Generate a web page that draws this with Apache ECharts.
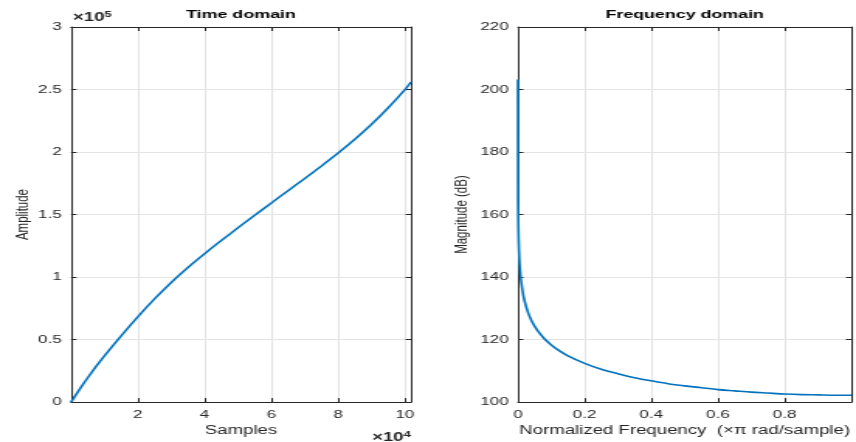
<!DOCTYPE html>
<html>
<head>
<meta charset="utf-8">
<script src="https://cdn.jsdelivr.net/npm/echarts@6/dist/echarts.min.js"></script>
<style>
html,body{margin:0;padding:0;background:#fff;overflow:hidden;}
#wrap{width:856px;height:442px;overflow:hidden;}
#chart{width:552px;height:442px;transform:scaleX(1.550725);transform-origin:0 0;}
</style>
</head>
<body>
<div id="wrap"><div id="chart"></div></div>
<script>
// ---- Time domain data (samples, amplitude) ----
const timeSamples = [0, 2500, 5000, 7500, 10000, 15000, 20000, 25000, 30000, 35000, 40000, 45000, 50000, 55000, 60000, 65000, 70000, 75000, 80000, 85000, 90000, 95000, 100000, 101800];
const timeAmplitude = [0, 10000, 19500, 28500, 37000, 53000, 68200, 82500, 95700, 107700, 118700, 129200, 139400, 149400, 159300, 169100, 178900, 188900, 199200, 210200, 222200, 235400, 249900, 256000];

// ---- Frequency domain data (normalized frequency, magnitude dB) ----
const freqNorm = [0, 0.0005, 0.001, 0.002, 0.004, 0.006, 0.008, 0.01, 0.015, 0.02, 0.03, 0.04, 0.05, 0.06, 0.08, 0.1, 0.12, 0.15, 0.2, 0.25, 0.3, 0.35, 0.4, 0.45, 0.5, 0.55, 0.6, 0.65, 0.7, 0.75, 0.8, 0.85, 0.9, 0.95, 1.0];
const freqMagDb = [203.2, 164.3, 158.3, 152.3, 146.2, 142.7, 140.2, 138.3, 134.8, 132.3, 128.7, 126.2, 124.3, 122.7, 120.2, 118.3, 116.7, 114.8, 112.4, 110.5, 109.1, 107.8, 106.8, 105.9, 105.2, 104.6, 104.0, 103.6, 103.2, 102.9, 102.6, 102.4, 102.3, 102.2, 102.2];

// ---- tick labels / texts ----
const timeXTicks = ['2', '4', '6', '8', '10'];
const titles = ['Time domain', 'Frequency domain'];
const xNames = ['Samples', 'Normalized Frequency  (\u00d7\u03c0 rad/sample)'];
const yNames = ['Amplitude', 'Magnitude (dB)'];

const dark = '#262626';
const gridCol = '#e4e4e4';
const font = 'Liberation Sans, Arial, Helvetica, sans-serif';
const lineCol = '#0072BD';

const chart = echarts.init(document.getElementById('chart'), null, {renderer: 'canvas'});

function mainX(gridIndex, min, max, interval, fmt, name) {
  return {
    type: 'value', gridIndex, min, max, interval, position: 'bottom',
    axisLine: {show: true, onZero: false, lineStyle: {color: dark, width: 1}},
    axisTick: {show: true, inside: true, length: 4, lineStyle: {color: dark}},
    axisLabel: {show: true, color: dark, fontSize: 11, fontFamily: font, margin: 7, formatter: fmt, showMaxLabel: true, showMinLabel: true},
    splitLine: {show: true, lineStyle: {color: gridCol, width: 1}},
    name, nameLocation: 'middle', nameGap: 22,
    nameTextStyle: {color: dark, fontSize: 12, fontFamily: font}
  };
}
function topX(gridIndex, min, max, interval, title) {
  return {
    type: 'value', gridIndex, min, max, interval, position: 'top',
    axisLine: {show: true, onZero: false, lineStyle: {color: dark, width: 1}},
    axisTick: {show: true, inside: true, length: 4, lineStyle: {color: dark}},
    axisLabel: {show: false}, splitLine: {show: false},
    name: title, nameLocation: 'middle', nameGap: 6,
    nameTextStyle: {color: '#000', fontSize: 11.5, fontWeight: 'bold', fontFamily: font}
  };
}
function mainY(gridIndex, min, max, interval, fmt, name, gap) {
  return {
    type: 'value', gridIndex, min, max, interval, position: 'left',
    axisLine: {show: true, onZero: false, lineStyle: {color: dark, width: 1}},
    axisTick: {show: true, inside: true, length: 3.5, lineStyle: {color: dark}},
    axisLabel: {show: true, color: dark, fontSize: 11, fontFamily: font, margin: 6, formatter: fmt},
    splitLine: {show: true, lineStyle: {color: gridCol, width: 1}},
    name, nameLocation: 'middle', nameGap: gap, nameRotate: 90,
    nameTextStyle: {color: dark, fontSize: 11.5, fontFamily: font}
  };
}
function rightY(gridIndex, min, max, interval) {
  return {
    type: 'value', gridIndex, min, max, interval, position: 'right',
    axisLine: {show: true, onZero: false, lineStyle: {color: dark, width: 1}},
    axisTick: {show: true, inside: true, length: 3.5, lineStyle: {color: dark}},
    axisLabel: {show: false}, splitLine: {show: false}
  };
}

const expRich = {
  a: {fontSize: 12, color: dark, fontFamily: font},
  b: {fontSize: 8.5, color: dark, fontFamily: font, verticalAlign: 'top', padding: [0, 0, 7, 0]}
};

const option = {
  animation: false,
  backgroundColor: '#fff',
  title: [
    {text: '{a|\u00d710}{b|5}', left: 47, top: 10, padding: 0, textStyle: {rich: expRich}},
    {text: '{a|\u00d710}{b|4}', right: 287, top: 430, padding: 0, textStyle: {rich: expRich}}
  ],
  grid: [
    {left: 45.8, right: 287, top: 27, bottom: 38},
    {left: 334, right: -1.3, top: 27, bottom: 38}
  ],
  xAxis: [
    mainX(0, 0, 101800, 20000, v => {
      const i = Math.round(v / 20000) - 1;
      return (v > 0 && v % 20000 === 0 && i < timeXTicks.length) ? timeXTicks[i] : '';
    }, xNames[0]),
    topX(0, 0, 101800, 20000, titles[0]),
    mainX(1, 0, 1, 0.2, v => (v === 0 ? '0' : (v < 0.99 ? v.toFixed(1) : '')), xNames[1]),
    topX(1, 0, 1, 0.2, titles[1])
  ],
  yAxis: [
    mainY(0, 0, 300000, 50000, v => String(v / 100000), yNames[0], 20),
    rightY(0, 0, 300000, 50000),
    mainY(1, 100, 220, 20, v => String(v), yNames[1], 30),
    rightY(1, 100, 220, 20)
  ],
  series: [
    {type: 'line', xAxisIndex: 0, yAxisIndex: 0, showSymbol: false, smooth: 0.25,
     lineStyle: {color: lineCol, width: 1.6}, data: timeSamples.map((x, i) => [x, timeAmplitude[i]])},
    {type: 'line', xAxisIndex: 2, yAxisIndex: 2, showSymbol: false, smooth: 0.3,
     lineStyle: {color: lineCol, width: 1.6}, data: freqNorm.map((x, i) => [x, freqMagDb[i]])}
  ]
};
chart.setOption(option);
</script>
</body>
</html>
